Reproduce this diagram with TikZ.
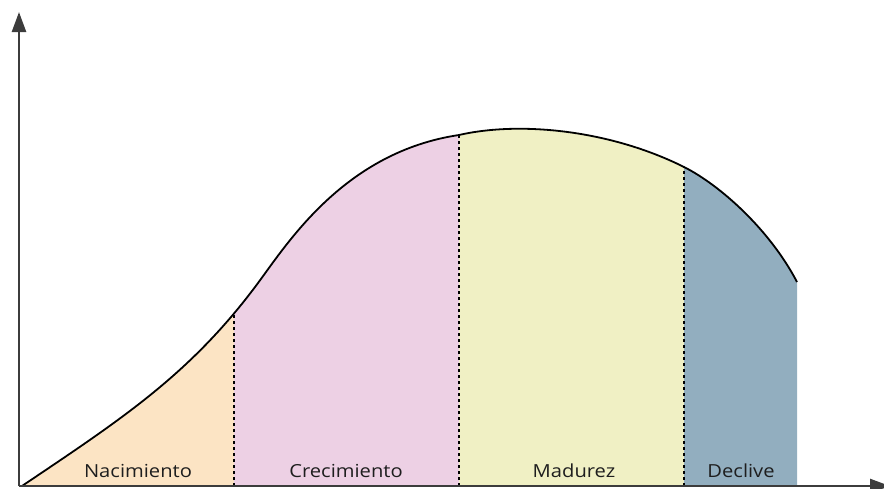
\documentclass[tikz,border=0pt]{standalone}
\usepackage{fontspec}
\newfontfamily\labelfont[FakeStretch=1.12]{Open Sans}
\usetikzlibrary{arrows.meta}
\definecolor{cNac}{RGB}{252,228,196}
\definecolor{cCre}{RGB}{237,208,228}
\definecolor{cMad}{RGB}{240,240,196}
\definecolor{cDec}{RGB}{146,174,191}
\definecolor{axisgray}{RGB}{60,60,60}
\definecolor{labelgray}{RGB}{30,30,30}
\tikzset{
  axisline/.style={draw=axisgray,line width=2.5pt,-{Triangle[width=14pt,length=20pt]}},
  curveline/.style={draw=black,line width=1.8pt},
  divider/.style={draw=black,line width=2pt,dash pattern=on 3pt off 3pt},
  stagelabel/.style={font=\labelfont\fontsize{18}{20}\selectfont,text=labelgray,anchor=base,inner sep=0pt},
}
\def\lifecurve{(22,486) .. controls (120,420) and (190,375) .. (258,283)
  .. controls (288,242.5) and (345,152) .. (459,135)
  .. controls (520,121) and (610,130) .. (684,167)
  .. controls (720,185) and (770,230) .. (797,282)}
\begin{document}
\begin{tikzpicture}[x=1pt,y=-1pt]
\useasboundingbox (0,0) rectangle (884,488);
\coordinate (O) at (19,486);
\coordinate (ytop) at (19,12);
\coordinate (xend) at (890,486);
% fills
\foreach \xa/\xb/\col in {0/234/cNac,234/459/cCre,459/684/cMad,684/797/cDec}{
  \begin{scope}
    \clip (\xa,0) rectangle (\xb,486);
    \fill[\col] \lifecurve -- (797,486) -- (22,486) -- cycle;
  \end{scope}
}
% dividers
\begin{scope}
  \clip \lifecurve -- (797,486) -- (22,486) -- cycle;
  \draw[divider] (234,486) -- (234,100);
  \draw[divider] (459,486) -- (459,100);
  \draw[divider] (684,486) -- (684,100);
\end{scope}
% curve
\draw[curveline] \lifecurve;
% axes
\draw[axisline] (O) -- (ytop);
\draw[axisline] (O) -- (xend);
% labels
\node[stagelabel] (nac) at (138,477) {Nacimiento};
\node[stagelabel] (cre) at (346,477) {Crecimiento};
\node[stagelabel] (mad) at (574,477) {Madurez};
\node[stagelabel] (dec) at (741,477) {Declive};
\end{tikzpicture}
\end{document}
